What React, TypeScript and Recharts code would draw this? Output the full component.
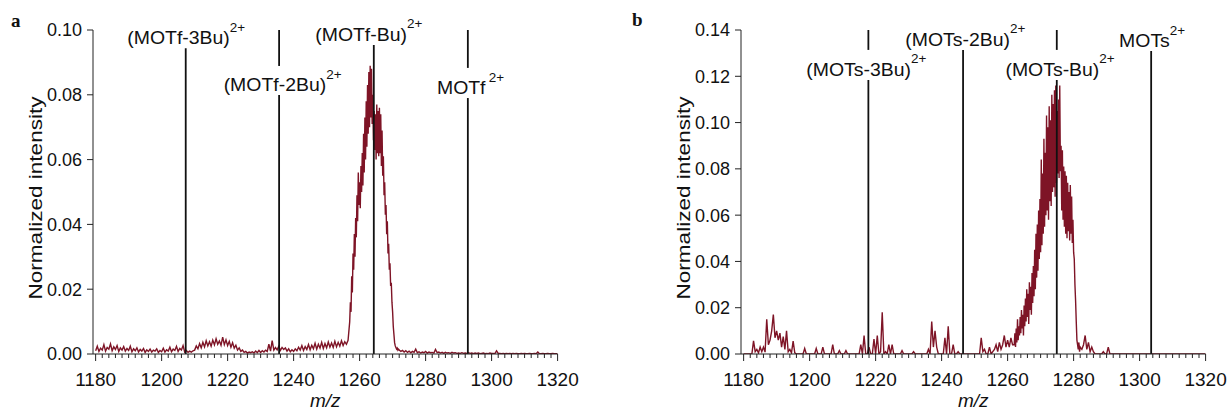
import React from 'react';
import { LineChart, Line, XAxis, YAxis, ReferenceLine } from 'recharts';

// ---------------- data ----------------
const xMajorTicks = [1180, 1200, 1220, 1240, 1260, 1280, 1300, 1320];
const yTicksA = [0, 0.02, 0.04, 0.06, 0.08, 0.1];
const yTicksB = [0, 0.02, 0.04, 0.06, 0.08, 0.1, 0.12, 0.14];

// Panel a spectrum: [start m/z, step] + intensities
const aLeftStart = 1180;
const aLeftStep = 0.5;
const aLeftIntensity = [
  0.0010, 0.0024, 0.0008, 0.0018, 0.0012, 0.0029, 0.0009, 0.0020, 0.0015, 0.0031,
  0.0010, 0.0022, 0.0014, 0.0026, 0.0008, 0.0019, 0.0012, 0.0023, 0.0009, 0.0017,
  0.0011, 0.0024, 0.0007, 0.0016, 0.0010, 0.0019, 0.0006, 0.0014, 0.0009, 0.0017,
  0.0005, 0.0013, 0.0008, 0.0015, 0.0006, 0.0012, 0.0009, 0.0016, 0.0005, 0.0011,
  0.0007, 0.0018, 0.0006, 0.0013, 0.0009, 0.0021, 0.0007, 0.0015, 0.0011, 0.0024,
  0.0008, 0.0017, 0.0012, 0.0026, 0.0006, 0.0011, 0.0005, 0.0009, 0.0006, 0.0010,
  0.0012, 0.0025, 0.0016, 0.0032, 0.0019, 0.0036, 0.0022, 0.0041, 0.0025, 0.0038,
  0.0024, 0.0043, 0.0028, 0.0047, 0.0030, 0.0040, 0.0027, 0.0052, 0.0029, 0.0044,
  0.0026, 0.0039, 0.0021, 0.0035, 0.0018, 0.0027, 0.0012, 0.0019, 0.0008, 0.0012,
  0.0005, 0.0008, 0.0003, 0.0006, 0.0004, 0.0007, 0.0003, 0.0009, 0.0004, 0.0011,
  0.0005, 0.0010, 0.0006, 0.0012, 0.0008, 0.0030, 0.0009, 0.0041, 0.0012, 0.0020,
  0.0013, 0.0024, 0.0011, 0.0020, 0.0014, 0.0019, 0.0009, 0.0016, 0.0007, 0.0013,
  0.0008, 0.0016, 0.0010, 0.0021, 0.0012, 0.0026, 0.0011, 0.0023, 0.0014, 0.0029,
  0.0013, 0.0027, 0.0016, 0.0033, 0.0015, 0.0030, 0.0018, 0.0036, 0.0017, 0.0032,
  0.0019, 0.0037, 0.0021, 0.0034, 0.0020, 0.0039, 0.0022, 0.0036, 0.0024, 0.0041,
  0.0026, 0.0038, 0.0030, 0.0042,
];
const aPeakStart = 1257;
const aPeakStep = 0.2;
const aPeakIntensity = [
  0.010, 0.016, 0.013, 0.024, 0.019, 0.031, 0.026, 0.037, 0.030, 0.042,
  0.036, 0.049, 0.041, 0.056, 0.046, 0.053, 0.045, 0.058, 0.050, 0.062,
  0.052, 0.068, 0.056, 0.073, 0.060, 0.078, 0.064, 0.083, 0.068, 0.087,
  0.070, 0.089, 0.073, 0.088, 0.071, 0.080, 0.066, 0.075, 0.063, 0.074,
  0.060, 0.077, 0.062, 0.075, 0.061, 0.076, 0.062, 0.074, 0.058, 0.069,
  0.055, 0.061, 0.049, 0.053, 0.043, 0.046, 0.037, 0.041, 0.031, 0.034,
  0.026, 0.028, 0.021, 0.022, 0.016, 0.013, 0.0085, 0.006, 0.0035, 0.0025,
  0.0020, 0.0015, 0.0018, 0.0012, 0.0015,
];
const aRightStart = 1272;
const aRightStep = 0.5;
const aRightIntensity = [
  0.0012, 0.0008, 0.0011, 0.0006, 0.0010, 0.0005, 0.0009, 0.0004, 0.0008, 0.0005,
  0.0015, 0.0004, 0.0007, 0.0003, 0.0006, 0.0004, 0.0008, 0.0003, 0.0006, 0.0004,
  0.0005, 0.0003, 0.0014, 0.0004, 0.0006, 0.0003, 0.0005, 0.0002, 0.0005, 0.0003,
  0.0004, 0.0002, 0.0005, 0.0003, 0.0004, 0.0002, 0.0003, 0.0002, 0.0004, 0.0002,
  0.0003, 0.0002, 0.0004, 0.0002, 0.0003, 0.0001, 0.0003, 0.0002, 0.0003, 0.0001,
  0.0002, 0.0003, 0.0001, 0.0002, 0.0001, 0.0003, 0.0002, 0.0002, 0.0001, 0.0010,
  0.0002, 0.0002, 0.0001, 0.0002, 0.0001, 0.0002, 0.0001, 0.0002, 0.0001, 0.0002,
  0.0001, 0.0002, 0.0001, 0.0001, 0.0002, 0.0001, 0.0002, 0.0001, 0.0001, 0.0002,
  0.0001, 0.0001, 0.0002, 0.0001, 0.0006, 0.0001, 0.0001, 0.0002, 0.0001, 0.0001,
  0.0002, 0.0001, 0.0001, 0.0002, 0.0001, 0.0001, 0.0001,
];

// Panel b spectrum
const bLeftStart = 1180;
const bLeftStep = 0.5;
const bLeftIntensity = [
  0, 0, 0, 0, 0, 0, 0.0057, 0.001, 0.002, 0.0005,
  0.003, 0.001, 0.003, 0.0008, 0.015, 0.004, 0.006, 0.010, 0.017, 0.007,
  0.010, 0.006, 0.009, 0.003, 0.0075, 0.002, 0.010, 0.001, 0.002, 0.0005,
  0.0056, 0.0005, 0, 0, 0, 0, 0, 0.0024, 0, 0,
  0, 0, 0, 0, 0.0024, 0, 0, 0, 0.003, 0,
  0, 0, 0, 0, 0.004, 0, 0, 0, 0.0015, 0,
  0, 0, 0.0015, 0, 0, 0, 0, 0, 0, 0,
  0, 0.004, 0, 0.008, 0, 0, 0.003, 0, 0, 0.0065,
  0, 0.008, 0, 0.001, 0.018, 0, 0.001, 0, 0.004, 0,
  0.004, 0, 0, 0, 0, 0, 0.0015, 0, 0, 0,
  0, 0, 0, 0.001, 0, 0, 0, 0, 0, 0,
  0, 0, 0.002, 0, 0.014, 0.003, 0.010, 0.003, 0, 0,
  0, 0, 0.007, 0, 0.012, 0, 0, 0.004, 0, 0,
  0.001, 0, 0, 0, 0, 0, 0, 0, 0, 0,
  0, 0, 0, 0, 0.007, 0.001, 0.002, 0, 0, 0.003,
  0, 0.001, 0.002, 0.004, 0.001, 0.005, 0.002, 0.004, 0.008, 0.003,
  0.006, 0.003, 0.007, 0.004,
];
const bPeakStart = 1262;
const bPeakStep = 0.2;
const bPeakIntensity = [
  0.004, 0.009, 0.003, 0.011, 0.005, 0.015, 0.006, 0.012, 0.008, 0.016,
  0.009, 0.019, 0.011, 0.017, 0.008, 0.021, 0.012, 0.024, 0.014, 0.028,
  0.016, 0.026, 0.013, 0.031, 0.019, 0.029, 0.017, 0.035, 0.022, 0.038,
  0.025, 0.045, 0.028, 0.052, 0.033, 0.056, 0.036, 0.062, 0.041, 0.067,
  0.044, 0.084, 0.047, 0.078, 0.052, 0.093, 0.055, 0.087, 0.060, 0.103,
  0.062, 0.098, 0.058, 0.107, 0.066, 0.101, 0.064, 0.112, 0.070, 0.108,
  0.072, 0.114, 0.068, 0.116, 0.074, 0.105, 0.078, 0.110, 0.076, 0.116,
  0.079, 0.090, 0.062, 0.088, 0.058, 0.081, 0.055, 0.079, 0.052, 0.077,
  0.050, 0.074, 0.053, 0.070, 0.049, 0.073, 0.052, 0.068, 0.048, 0.058,
  0.044, 0.041, 0.030, 0.023, 0.014, 0.006, 0.004, 0.002, 0.005, 0.001,
  0.003,
];
const bRightStart = 1282.5;
const bRightStep = 0.5;
const bRightIntensity = [
  0.002, 0.004, 0.008, 0.002, 0.005, 0.001, 0.003, 0.001, 0, 0,
  0, 0, 0, 0.001, 0, 0, 0.003, 0, 0, 0,
  0, 0, 0, 0, 0, 0, 0, 0, 0, 0,
  0, 0, 0, 0, 0, 0, 0, 0, 0, 0,
  0, 0, 0, 0, 0, 0, 0, 0, 0, 0,
  0, 0, 0, 0, 0, 0, 0, 0, 0, 0,
  0, 0, 0, 0, 0, 0, 0, 0, 0, 0,
  0, 0, 0, 0, 0, 0,
];

// Reference ion markers
const markerNamesA = ['(MOTf-3Bu)', '(MOTf-2Bu)', '(MOTf-Bu)', 'MOTf'];
const markerMzA = [1207.3, 1235.6, 1264.3, 1292.8];
const markerLowerTopA = [0.0944, 0.0799, 0.0954, 0.079];
const markerUpperA = [null, [0.0889, 0.1], null, [0.0883, 0.1]];

const markerNamesB = ['(MOTs-3Bu)', '(MOTs-2Bu)', '(MOTs-Bu)', 'MOTs'];
const markerMzB = [1217.8, 1246.5, 1274.9, 1303.5];
const markerLowerTopB = [0.1184, 0.1314, 0.1184, 0.1309];
const markerUpperB = [[0.1314, 0.14], null, [0.1314, 0.14], null];

// ---------------- style ----------------
const FONT = '"Liberation Sans", Arial, Helvetica, sans-serif';
const SERIF = '"Liberation Serif", "Times New Roman", serif';
const TRACE = '#7e1426';
const INK = '#111';
const labelDxA = [0.5, 3.5, -5, 2.7];
const labelDxB = [-2, 2.3, 3.3, 1];
const superGapA = [0, 0, 0, 3];
const superGapB = [0, 0, 0, 0];

const CHART_W = 600;
const CHART_H = 411;
const Y_AXIS_W = 93;
const MARGIN = { top: 30, right: 42.4, bottom: 0, left: 0 };
const X_DOMAIN: [number, number] = [1179.2, 1320];
const X_AXIS_H = 57;

function buildSpectrum(segments: Array<[number, number, number[]]>) {
  const out: { mz: number; intensity: number }[] = [];
  segments.forEach(([start, step, vals]) => {
    vals.forEach((v, i) => out.push({ mz: +(start + i * step).toFixed(3), intensity: v }));
  });
  return out;
}

const dataA = buildSpectrum([
  [aLeftStart, aLeftStep, aLeftIntensity],
  [aPeakStart, aPeakStep, aPeakIntensity],
  [aRightStart, aRightStep, aRightIntensity],
]);
const dataB = buildSpectrum([
  [bLeftStart, bLeftStep, bLeftIntensity],
  [bPeakStart, bPeakStep, bPeakIntensity],
  [bRightStart, bRightStep, bRightIntensity],
]);

const xAllTicks: number[] = [];
for (let m = xMajorTicks[0]; m <= xMajorTicks[xMajorTicks.length - 1]; m += 2) xAllTicks.push(m);

const XTick = (props: any) => {
  const { x, y, payload } = props;
  const v = payload.value;
  const major = xMajorTicks.includes(v);
  return (
    <g>
      <line x1={x} x2={x} y1={y} y2={y + (major ? 7 : 4)} stroke="#222" strokeWidth={1} />
      {major && (
        <text x={x} y={y + 32} textAnchor="middle" fontSize={19} fontFamily={FONT} fill={INK}>
          {v}
        </text>
      )}
    </g>
  );
};

const markerShape = (name: string, dx: number, gap: number) => (p: any) => {
  const top = Math.min(p.y1, p.y2);
  return (
    <g>
      <line x1={p.x1} y1={p.y1} x2={p.x2} y2={p.y2} stroke={INK} strokeWidth={1.8} />
      <g transform={`translate(${p.x1 + dx}, ${top - 4}) scale(1.08, 1)`}>
        <text x={0} y={0} textAnchor="middle" fontFamily={FONT} fontSize={18} fill={INK}>
          {name}
          <tspan dx={gap} dy={-12.5} fontSize={12.5}>2+</tspan>
        </text>
      </g>
    </g>
  );
};

function Panel(props: {
  left: number;
  data: { mz: number; intensity: number }[];
  yMax: number;
  yTicks: number[];
  names: string[];
  mz: number[];
  lowerTop: number[];
  upper: (number[] | null)[];
  dx: number[];
  gaps: number[];
}) {
  const { left, data, yMax, yTicks, names, mz, lowerTop, upper, dx, gaps } = props;
  return (
    <div style={{ position: 'absolute', left, top: 0 }}>
      <LineChart width={CHART_W} height={CHART_H} data={data} margin={MARGIN}>
        <XAxis
          type="number"
          dataKey="mz"
          domain={X_DOMAIN}
          ticks={xAllTicks}
          interval={0}
          tickSize={0}
          tickMargin={0}
          tickLine={false}
          tick={<XTick />}
          axisLine={{ stroke: '#222', strokeWidth: 1 }}
          height={X_AXIS_H}
          allowDataOverflow
        />
        <YAxis
          type="number"
          domain={[0, yMax]}
          ticks={yTicks}
          interval={0}
          width={Y_AXIS_W}
          tickSize={6}
          tickMargin={5}
          tick={{ fontSize: 18, fill: INK, fontFamily: FONT }}
          tickFormatter={(v: number) => v.toFixed(2)}
          axisLine={{ stroke: '#222', strokeWidth: 1 }}
          tickLine={{ stroke: '#222', strokeWidth: 1 }}
          allowDataOverflow
        />
        <Line
          type="linear"
          dataKey="intensity"
          stroke={TRACE}
          strokeWidth={1.4}
          dot={false}
          activeDot={false}
          isAnimationActive={false}
        />
        {mz.map((m, i) => (
          <ReferenceLine
            key={`lo-${i}`}
            segment={[{ x: m, y: 0 }, { x: m, y: lowerTop[i] }]}
            ifOverflow="visible"
            shape={markerShape(names[i], dx[i], gaps[i])}
          />
        ))}
        {mz.map((m, i) =>
          upper[i] ? (
            <ReferenceLine
              key={`hi-${i}`}
              segment={[{ x: m, y: (upper[i] as number[])[0] }, { x: m, y: (upper[i] as number[])[1] }]}
              ifOverflow="visible"
              stroke={INK}
              strokeWidth={1.8}
            />
          ) : null
        )}
      </LineChart>
    </div>
  );
}

const PANEL_B_LEFT = 648;

export default function App() {
  const plotLeftA = MARGIN.left + Y_AXIS_W;
  const plotW = CHART_W - Y_AXIS_W - MARGIN.left - MARGIN.right;
  const mzCenterA = plotLeftA + plotW / 2;
  const mzCenterB = PANEL_B_LEFT + mzCenterA;
  return (
    <div
      style={{
        position: 'fixed',
        left: 0,
        top: 0,
        width: 1227,
        height: 411,
        background: '#fff',
        overflow: 'hidden',
      }}
    >
      <Panel
        left={0}
        data={dataA}
        yMax={0.1}
        yTicks={yTicksA}
        names={markerNamesA}
        mz={markerMzA}
        lowerTop={markerLowerTopA}
        upper={markerUpperA}
        dx={labelDxA}
        gaps={superGapA}
      />
      <Panel
        left={PANEL_B_LEFT}
        data={dataB}
        yMax={0.14}
        yTicks={yTicksB}
        names={markerNamesB}
        mz={markerMzB}
        lowerTop={markerLowerTopB}
        upper={markerUpperB}
        dx={labelDxB}
        gaps={superGapB}
      />
      <svg
        width={1227}
        height={411}
        style={{ position: 'absolute', left: 0, top: 0, pointerEvents: 'none' }}
      >
        <text x={11} y={27} fontFamily={SERIF} fontWeight="bold" fontSize={19} fill={INK}>a</text>
        <text x={632} y={26} fontFamily={SERIF} fontWeight="bold" fontSize={19} fill={INK}>b</text>
        <text
          x={42}
          y={198}
          transform="rotate(-90 42 198)"
          textAnchor="middle"
          fontFamily={FONT}
          fontSize={19}
          fill={INK}
          textLength={203}
          lengthAdjust="spacingAndGlyphs"
        >
          Normalized intensity
        </text>
        <text
          x={42 + PANEL_B_LEFT}
          y={198}
          transform={`rotate(-90 ${42 + PANEL_B_LEFT} 198)`}
          textAnchor="middle"
          fontFamily={FONT}
          fontSize={19}
          fill={INK}
          textLength={203}
          lengthAdjust="spacingAndGlyphs"
        >
          Normalized intensity
        </text>
        <text x={mzCenterA} y={407} textAnchor="middle" fontFamily={FONT} fontStyle="italic" fontSize={19} fill={INK}>
          m/z
        </text>
        <text x={mzCenterB} y={407} textAnchor="middle" fontFamily={FONT} fontStyle="italic" fontSize={19} fill={INK}>
          m/z
        </text>
      </svg>
    </div>
  );
}
